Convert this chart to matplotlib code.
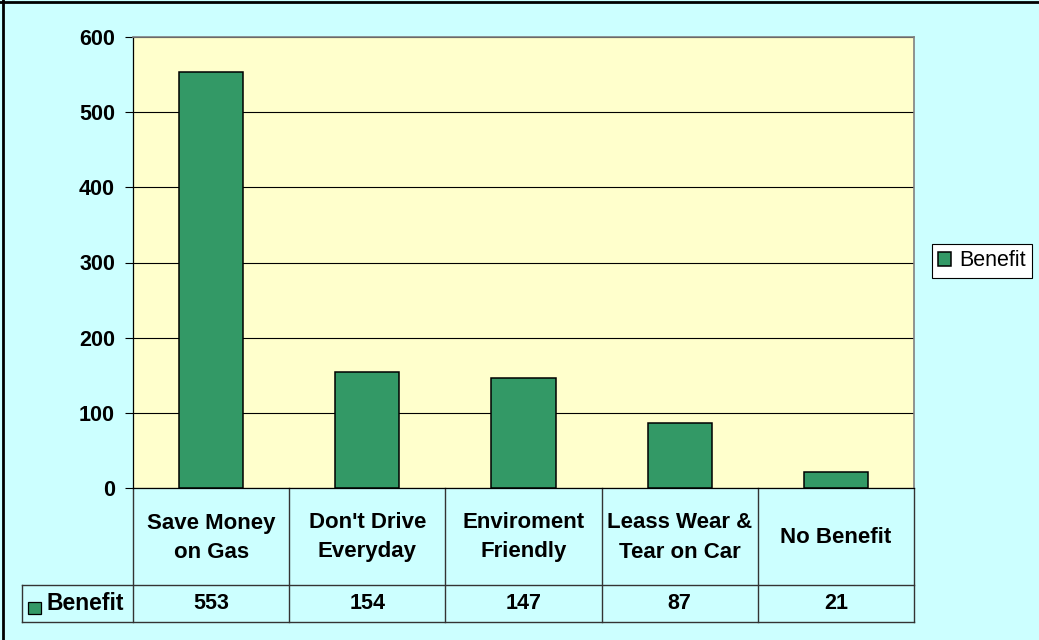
import matplotlib
matplotlib.use('Agg')
import matplotlib.pyplot as plt
from matplotlib.patches import Rectangle
from matplotlib.lines import Line2D

categories = ['Save Money\non Gas', "Don't Drive\nEveryday", 'Enviroment\nFriendly',
              'Leass Wear &\nTear on Car', 'No Benefit']
values = [553, 154, 147, 87, 21]
series_name = 'Benefit'
yticks = [0, 100, 200, 300, 400, 500, 600]

plt.rcParams['font.family'] = ['Liberation Sans', 'DejaVu Sans']

W, H = 1039, 640
BAR = '#339966'
fig = plt.figure(figsize=(W / 100, H / 100), dpi=100, facecolor='#CCFFFF')
L, R, T, B = 133, 914, 37, 488
ax = fig.add_axes([L / W, 1 - B / H, (R - L) / W, (B - T) / H])
ax.set_facecolor('#FFFFCC')

n = len(categories)
xs = list(range(n))
bars = ax.bar(xs, values, width=0.41, color=BAR, edgecolor='black', linewidth=1.1,
              zorder=3, label=series_name)
ax.set_xlim(-0.5, n - 0.5)
ax.set_ylim(0, 600)
ax.set_yticks(yticks)
ax.set_yticklabels([str(t) for t in yticks], fontweight='bold')
ax.yaxis.grid(True, color='black', lw=0.8)
ax.set_axisbelow(True)
ax.set_xticks([])
for s in ['top', 'right']:
    ax.spines[s].set_color('#808080')
    ax.spines[s].set_linewidth(1.2)
ax.spines['left'].set_color('black')
ax.spines['bottom'].set_color('black')
ax.spines['left'].set_linewidth(0.9)
ax.spines['bottom'].set_linewidth(0.9)
ax.tick_params(axis='y', length=6, width=0.8, pad=7, labelsize=15.5, colors='black')

# ---- data table below plot ----
tr = ax.get_xaxis_transform()
colw = (R - L) / n


def ay(py):
    return (B - py) / (B - T)


def dx(px):
    return -0.5 + (px - L) / colw


y_sep, y_bot = 585, 622
xl = dx(22)
lc = '#333333'
lw = 1.0
ax.add_line(Line2D([xl, n - 0.5], [ay(y_sep)] * 2, transform=tr, color=lc, lw=lw, clip_on=False))
ax.add_line(Line2D([xl, n - 0.5], [ay(y_bot)] * 2, transform=tr, color=lc, lw=lw, clip_on=False))
for i in range(n + 1):
    ax.add_line(Line2D([i - 0.5] * 2, [ay(B), ay(y_bot)], transform=tr, color=lc, lw=lw, clip_on=False))
ax.add_line(Line2D([xl] * 2, [ay(y_sep), ay(y_bot)], transform=tr, color=lc, lw=lw, clip_on=False))

for i, (c, v) in enumerate(zip(categories, values)):
    ax.text(i, ay((B + y_sep) / 2 + 1), c, transform=tr, ha='center', va='center',
            fontsize=16, fontweight='bold', linespacing=1.5, clip_on=False)
    ax.text(i, ay((y_sep + y_bot) / 2), str(v), transform=tr, ha='center', va='center',
            fontsize=15.5, fontweight='bold', clip_on=False)

# row label with legend key
ax.add_patch(Rectangle((dx(28), ay(614)), dx(41) - dx(28), ay(602) - ay(614), transform=tr,
                       facecolor=BAR, edgecolor='black', lw=0.9, clip_on=False))
ax.text(dx(47), ay((y_sep + y_bot) / 2), series_name, transform=tr, ha='left', va='center',
        fontsize=16.5, fontweight='bold', clip_on=False)

# ---- legend ----
leg = fig.legend(handles=[bars], labels=[series_name], loc='center left',
                 bbox_to_anchor=(932 / W, 1 - 261 / H), fontsize=15.5, frameon=True,
                 fancybox=False, shadow=False, borderpad=0.3, handlelength=0.6,
                 handleheight=0.6, handletextpad=0.35, borderaxespad=0)
leg.get_frame().set_edgecolor('black')
leg.get_frame().set_linewidth(0.8)
leg.get_frame().set_facecolor('white')
leg.get_frame().set_alpha(1)

# ---- outer border (top & left) ----
fig.add_artist(Line2D([0, 1], [1 - 1.5 / H] * 2, transform=fig.transFigure, color='black', lw=2))
fig.add_artist(Line2D([3 / W] * 2, [0, 1], transform=fig.transFigure, color='black', lw=2))

fig.savefig('out.png', dpi=100, facecolor=fig.get_facecolor())
